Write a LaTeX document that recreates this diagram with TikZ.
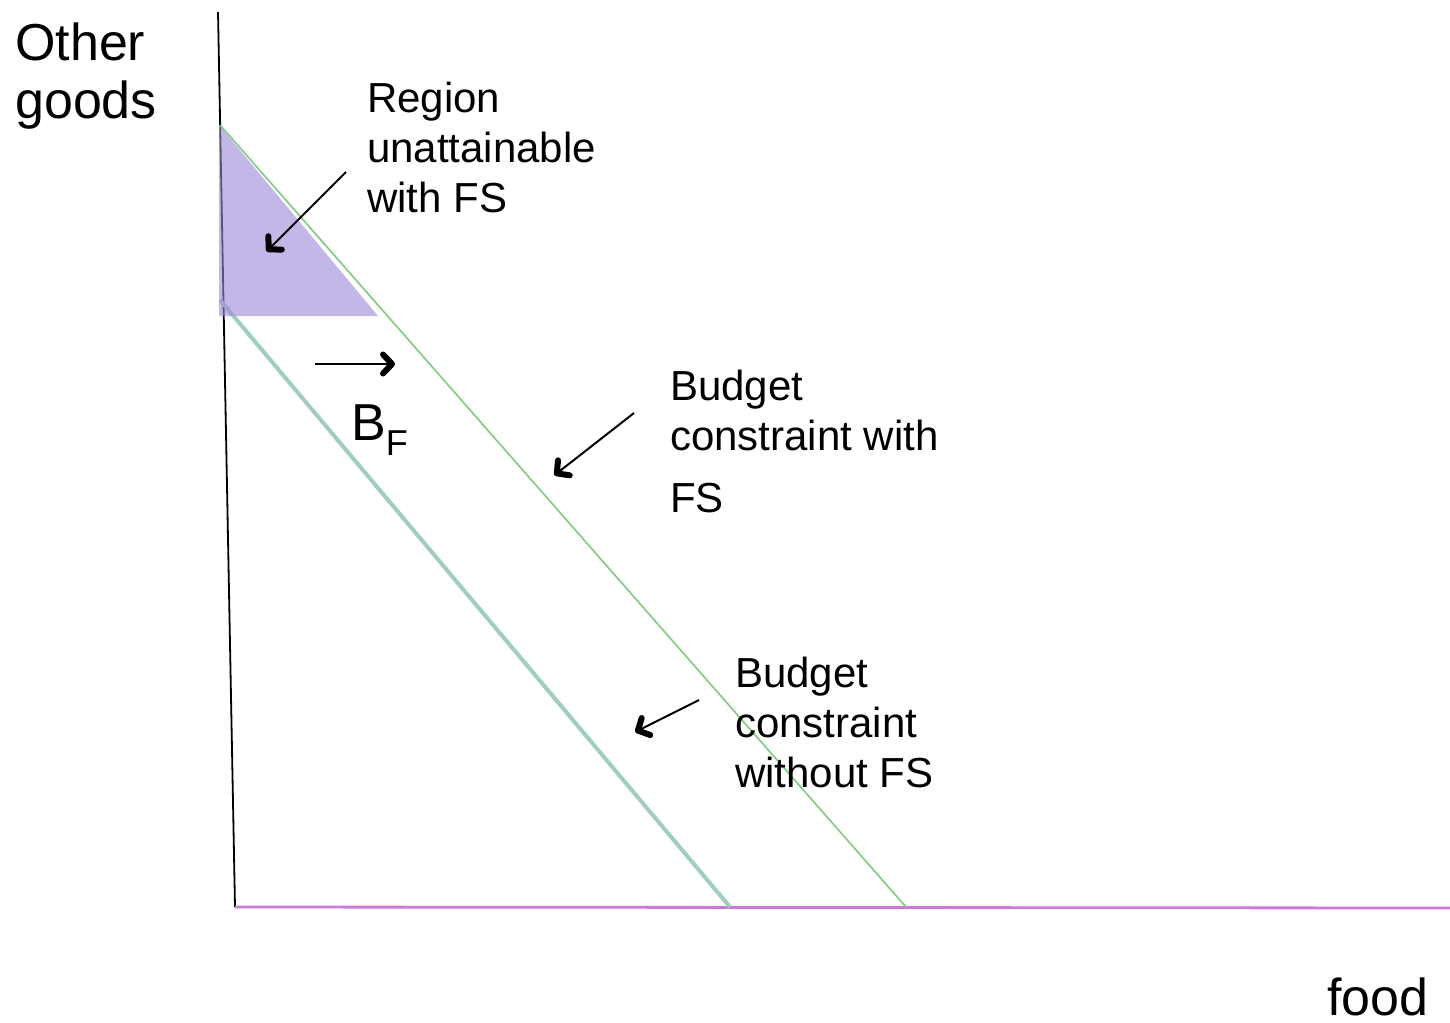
\documentclass[tikz,border=0pt]{standalone}
\usepackage{fontspec}
\setmainfont{Liberation Sans}
\usetikzlibrary{decorations.markings}
\definecolor{axisviolet}{RGB}{204,120,221}
\definecolor{bcgreen}{RGB}{125,204,125}
\definecolor{bcteal}{RGB}{158,206,190}
\definecolor{regionfill}{RGB}{155,135,217}
\tikzset{
  lbl/.style={anchor=base west, inner sep=0pt, align=left, font=\fontsize{42}{50}\selectfont},
  biglbl/.style={anchor=base west, inner sep=0pt, align=left, font=\fontsize{52}{58}\selectfont},
  pointer/.style={draw=black, line width=2pt, postaction={decorate},
    decoration={markings, mark=at position 1 with {
      \draw[black, line width=6pt, line cap=round, line join=round] (-10pt,9.5pt) -- (-1pt,0pt) -- (-10pt,-9.5pt);}}},
}
\begin{document}
\begin{tikzpicture}[x=1pt,y=-1pt]
\useasboundingbox (0,0) rectangle (1450,1022);
% axes
\coordinate (ytop) at (218,12);
\coordinate (orig) at (235,907);
\coordinate (xend) at (1450,908);
\draw[black, line width=1.8pt] (ytop) -- (orig);
\draw[axisviolet, line width=2.8pt] (orig) -- (xend);
% budget constraints
\coordinate (bwA) at (220,125);
\coordinate (bwB) at (906,907);
\coordinate (boA) at (220,300);
\coordinate (boB) at (730,907);
\draw[bcteal, line width=4pt] (boA) -- (boB);
\draw[bcgreen, line width=1.6pt] (bwA) -- (bwB);
% unattainable region
\coordinate (t1) at (219,125);
\coordinate (t2) at (219,316);
\coordinate (t3) at (378,316);
\fill[regionfill, fill opacity=0.6] (t1) -- (t2) -- (t3) -- cycle;
% labels (base anchor = baseline of last line)
\node[biglbl] (og) at (15,118) {Other\\goods};
\node[biglbl] (food) at (1327,1015) {food};
\node[lbl] (reg) at (367,212) {Region\\unattainable\\with FS};
\node[lbl] (bcw) at (670,512) {Budget\\constraint with\\[12pt]FS};
\node[lbl] (bco) at (735,787) {Budget\\constraint\\without FS};
\node[anchor=base west, inner sep=0pt, font=\fontsize{52}{58}\selectfont] (bf) at (351,440) {B\raisebox{-15pt}{\fontsize{36}{40}\selectfont F}};
% pointers
\coordinate (p1s) at (346,172); \coordinate (p1e) at (268,250);
\coordinate (p2s) at (315,364); \coordinate (p2e) at (393,364);
\coordinate (p3s) at (634,413); \coordinate (p3e) at (556,474);
\coordinate (p4s) at (699,700); \coordinate (p4e) at (637,731);
\draw[pointer] (p1s) -- (p1e);
\draw[pointer] (p2s) -- (p2e);
\draw[pointer] (p3s) -- (p3e);
\draw[pointer] (p4s) -- (p4e);
\end{tikzpicture}
\end{document}
